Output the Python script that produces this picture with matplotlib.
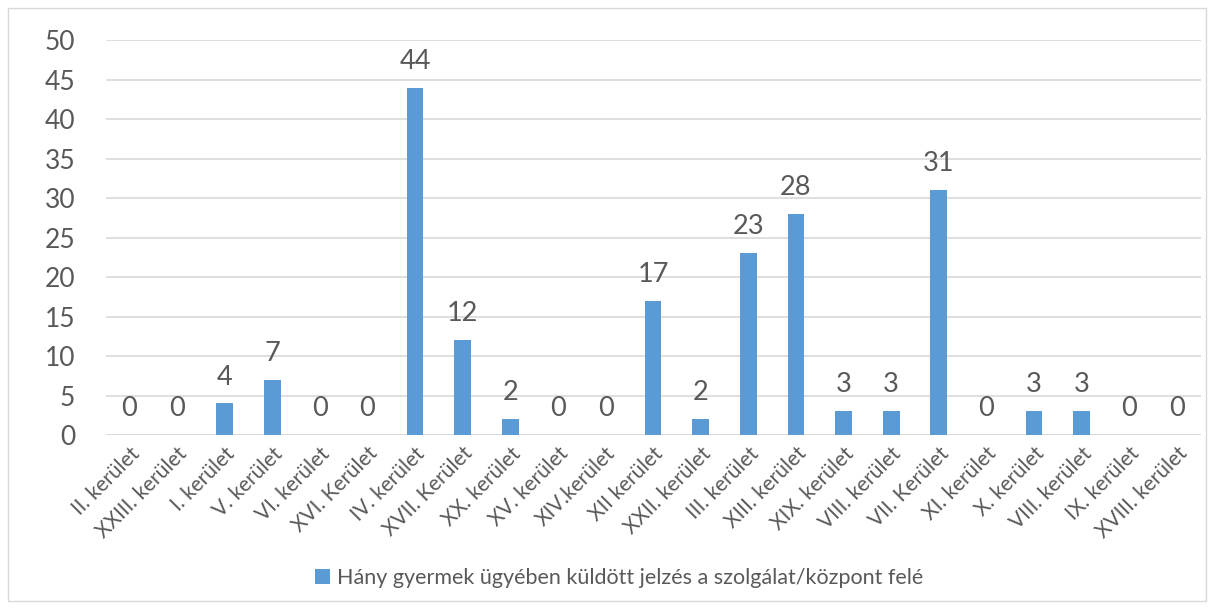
import matplotlib
matplotlib.use('Agg')
from matplotlib import pyplot as plt
from matplotlib.patches import Rectangle
import numpy as np

# districts in the order shown on the chart
districts = ['II. kerület', 'XXIII. kerület', 'I. kerület', 'V. kerület', 'VI. kerület',
             'XVI. Kerület', 'IV. kerület', 'XVII. Kerület', 'XX. kerület', 'XV. kerület',
             'XIV.kerület', 'XII kerület', 'XXII. kerület', 'III. kerület', 'XIII. kerület',
             'XIX. kerület', 'VIII. kerület', 'VII. Kerület', 'XI. kerület', 'X. kerület',
             'VIII. kerület', 'IX. kerület', 'XVIII. kerület']
counts = [0, 0, 4, 7, 0, 0, 44, 12, 2, 0, 0, 17, 2, 23, 28, 3, 3, 31, 0, 3, 3, 0, 0]

series_name = 'Hány gyermek ügyében küldött jelzés a szolgálat/központ felé'

plt.rcParams['font.family'] = ['Lato', 'DejaVu Sans']
text_color = '#595959'
bar_color = '#5B9BD5'

fig = plt.figure(figsize=(12.14, 6.08), dpi=100)
ax = fig.add_axes([0.087, 0.2845, 0.902, 0.6495])

x = np.arange(len(counts))
bars = ax.bar(x, counts, width=0.35, color=bar_color, zorder=3)
# value labels above each bar
for xi, v in zip(x, counts):
    ax.annotate(str(v), (xi, v), xytext=(0, 10), textcoords='offset points',
                ha='center', va='bottom', fontsize=19.5, color=text_color)

ax.set_xlim(-0.5, len(counts) - 0.5)
ax.set_ylim(0, 50)
ax.set_yticks(range(0, 51, 5))
ax.yaxis.grid(True, color='#D9D9D9', linewidth=1.2, zorder=0)
ax.tick_params(axis='y', length=0, labelsize=19, labelcolor=text_color, pad=22)
ax.set_xticks(x)
ax.set_xticklabels(districts, rotation=45, ha='right', rotation_mode='anchor',
                   fontsize=15, color=text_color)
ax.tick_params(axis='x', length=0, pad=6)
for s in ax.spines.values():
    s.set_visible(False)
ax.axhline(0, color='#D9D9D9', linewidth=1.2, zorder=2)

fig.legend([bars], [series_name], loc='center', bbox_to_anchor=(0.51, 0.05),
           frameon=False, fontsize=15.5, handlelength=0.7, handleheight=0.7,
           handletextpad=0.3, labelcolor=text_color)

# light frame around the whole chart
fig.patches.append(Rectangle((0.007, 0.012), 0.986, 0.975, transform=fig.transFigure,
                             fill=False, edgecolor='#D9D9D9', linewidth=1))

fig.savefig('out.png', dpi=100)
